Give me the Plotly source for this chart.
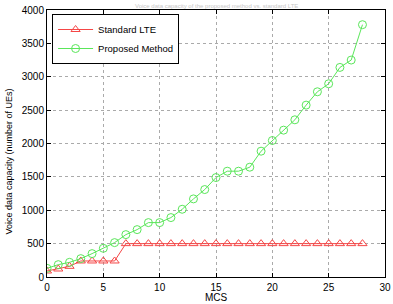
import plotly.graph_objects as go

mcs = list(range(0, 29))
standard_lte = [90, 120, 160, 240, 240, 240, 240] + [500] * 22
proposed = [130, 185, 220, 275, 350, 430, 515, 635, 710, 815, 815, 890, 1015, 1170,
            1310, 1490, 1585, 1585, 1645, 1885, 2045, 2200, 2355, 2575, 2775, 2895,
            3140, 3250, 3780]

red = "rgb(245,70,70)"
green = "rgb(90,230,90)"

fig = go.Figure()
fig.add_trace(go.Scatter(x=mcs, y=standard_lte, mode="lines+markers", name="Standard LTE",
                         line=dict(color=red, width=1),
                         marker=dict(symbol="triangle-up-open", size=8, color=red, line=dict(width=1))))
fig.add_trace(go.Scatter(x=mcs, y=proposed, mode="lines+markers", name="Proposed Method",
                         line=dict(color=green, width=1),
                         marker=dict(symbol="circle-open", size=8, color=green, line=dict(width=1))))

axis_common = dict(showline=True, linecolor="black", linewidth=1, mirror="ticks",
                   ticks="inside", ticklen=4, tickcolor="black", automargin=False,
                   showgrid=True, gridcolor="rgb(170,170,170)", griddash="dot", gridwidth=1,
                   zeroline=False, tickfont=dict(family="Liberation Sans, Arial", size=10, color="black"))

fig.update_layout(
    width=393, height=304,
    margin=dict(l=47, r=8, t=10, b=27),
    paper_bgcolor="white", plot_bgcolor="white",
    font=dict(family="Liberation Sans, Arial", color="black"),
    showlegend=True,
    legend=dict(x=0.015, y=0.985, xanchor="left", yanchor="top",
                bgcolor="white", bordercolor="black", borderwidth=1,
                font=dict(size=9.5), tracegroupgap=0, itemwidth=35),
    xaxis=dict(range=[0, 30], tickvals=[0, 5, 10, 15, 20, 25, 30], **axis_common,
               ticklabelstandoff=1),
    yaxis=dict(range=[0, 4000], tickvals=list(range(0, 4001, 500)), **axis_common),
)
fig.add_annotation(text="MCS", xref="paper", yref="paper", x=0.5, y=0, yshift=-20,
                   showarrow=False, yanchor="middle", font=dict(size=10))
fig.add_annotation(text="Voice data capacity (number of UEs)", xref="paper", yref="paper",
                   x=0, y=0.5, xshift=-39, yshift=-18, textangle=-90, showarrow=False,
                   xanchor="center", yanchor="middle", font=dict(size=9))
fig.add_annotation(text="Voice data capacity of the proposed method vs. standard LTE",
                   xref="paper", yref="paper", x=0.5, y=1.0, yshift=9, showarrow=False,
                   yanchor="top", font=dict(size=6, color="rgb(200,200,200)"))

fig.write_html("out.html")
